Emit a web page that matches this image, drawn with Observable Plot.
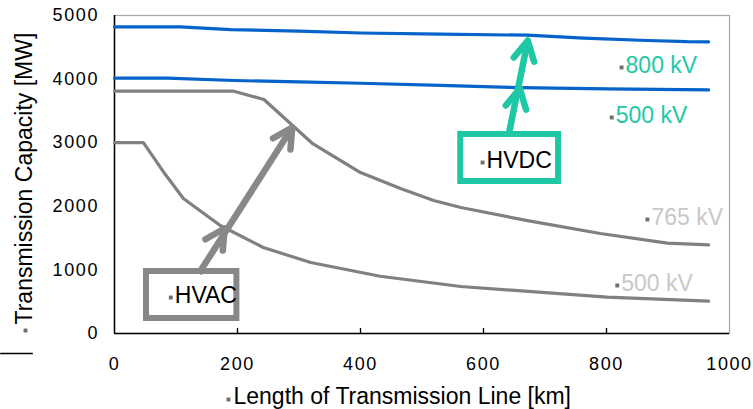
<!DOCTYPE html>
<html><head><meta charset="utf-8">
<script src="https://cdn.jsdelivr.net/npm/d3@7"></script>
<script src="https://cdn.jsdelivr.net/npm/@observablehq/plot@0.6"></script>
<style>
body{margin:0;background:#fff}
g[aria-label="y-axis tick label"] text, g[aria-label="x-axis tick label"] text{letter-spacing:1.6px}
</style>
</head><body><div id="chart"></div>
<script>
// ---- data ----
const hvdc800Km = [0, 107, 189, 300, 400, 530, 671, 763, 866, 931, 966];
const hvdc800MW = [4820, 4820, 4778, 4753, 4725, 4708, 4690, 4643, 4607, 4588, 4586];
const hvdc500Km = [0, 86, 194, 300, 400, 530, 660, 800, 966];
const hvdc500MW = [4015, 4015, 3978, 3955, 3935, 3900, 3866, 3845, 3830];
const hvac765Km = [0, 194, 243, 321, 400, 465, 519, 563, 676, 790, 899, 966];
const hvac765MW = [3810, 3810, 3679, 2995, 2530, 2280, 2091, 1981, 1766, 1572, 1420, 1394];
const hvac500Km = [0, 47, 80, 112, 172, 242, 319, 432, 563, 801, 966];
const hvac500MW = [3000, 3000, 2536, 2123, 1698, 1352, 1116, 900, 739, 571, 508];

const xTicks = [0, 200, 400, 600, 800, 1000];
const yTicks = [0, 1000, 2000, 3000, 4000, 5000];
const innerTicks = [200, 400, 600, 800];
const xTitle = "Length of Transmission Line [km]";
const yTitle = "Transmission Capacity [MW]";

const seriesLabels = ["800 kV", "500 kV", "765 kV", "500 kV"];
const seriesLabelKm = [831, 815, 873, 824];
const seriesLabelMW = [4214, 3428, 1824, 786];
const seriesLabelGroup = ["HVDC", "HVDC", "HVAC", "HVAC"];

const boxNames = ["HVDC", "HVAC"];
const boxKm1 = [563, 52], boxKm2 = [722, 199];
const boxMW1 = [2390, 236], boxMW2 = [3129, 975];
const boxTextKm = [605, 98], boxTextMW = [2720, 597];

const arrowStartKm = [642, 137], arrowStartMW = [3176, 943];
const arrowMidKm = [659, 179], arrowMidMW = [3852, 1651];
const arrowTipKm = [672, 289], arrowTipMW = [4607, 3239];

const cornerRuleKm = [-185, -132], cornerRuleMW = [-314];

// ---- styles ----
const W = 753, H = 409;
const mL = 114, mR = 24, mT = 15, mB = 76;
const blue = "#0563c9", gray = "#808080", teal = "#1ec8a5", lightGray = "#c8c8c8", sq = "#6e6e6e";
const groupColor = {HVDC: teal, HVAC: "#888888"};
const labelColor = {HVDC: teal, HVAC: lightGray};

const series = [
  {name: "HVDC 800 kV", km: hvdc800Km, mw: hvdc800MW, color: blue},
  {name: "HVDC 500 kV", km: hvdc500Km, mw: hvdc500MW, color: blue},
  {name: "HVAC 765 kV", km: hvac765Km, mw: hvac765MW, color: gray},
  {name: "HVAC 500 kV", km: hvac500Km, mw: hvac500MW, color: gray}
];
const rows = series.flatMap(s => s.km.map((k, i) => ({series: s.name, km: k, mw: s.mw[i], color: s.color})));

const labels = seriesLabels.map((t, i) => ({t, km: seriesLabelKm[i], mw: seriesLabelMW[i], g: seriesLabelGroup[i]}));
const boxes = boxNames.map((n, i) => ({n, x1: boxKm1[i], x2: boxKm2[i], y1: boxMW1[i], y2: boxMW2[i], tx: boxTextKm[i], ty: boxTextMW[i]}));

// pixel scales mirroring Plot's, used only to orient arrowheads
const xs = d3.scaleLinear([0, 1000], [mL, W - mR]);
const ys = d3.scaleLinear([0, 5000], [H - mB, mT]);

function chevron(theta) {
  const a = 28 * Math.PI / 180;
  const fx = Math.sin(theta), fy = -Math.cos(theta);
  const bx = -fx, by = -fy;
  const r1 = [bx * Math.cos(a) - by * Math.sin(a), bx * Math.sin(a) + by * Math.cos(a)];
  const r2 = [bx * Math.cos(-a) - by * Math.sin(-a), bx * Math.sin(-a) + by * Math.cos(-a)];
  return {
    draw(ctx, size) {
      const L = Math.sqrt(size / Math.PI);
      ctx.moveTo(r1[0] * L, r1[1] * L);
      ctx.lineTo(0, 0);
      ctx.lineTo(r2[0] * L, r2[1] * L);
    }
  };
}

const arrowMarks = boxNames.flatMap((n, i) => {
  const dx = xs(arrowTipKm[i]) - xs(arrowStartKm[i]);
  const dy = ys(arrowTipMW[i]) - ys(arrowStartMW[i]);
  const theta = Math.atan2(dx, -dy);
  const heads = [{x: arrowMidKm[i], y: arrowMidMW[i]}, {x: arrowTipKm[i], y: arrowTipMW[i]}];
  return [
    Plot.link([0], {x1: () => arrowStartKm[i], y1: () => arrowStartMW[i], x2: () => arrowTipKm[i], y2: () => arrowTipMW[i], stroke: groupColor[n], strokeWidth: 6.5}),
    Plot.dot(heads, {x: "x", y: "y", r: 22, symbol: chevron(theta), fill: "none", stroke: groupColor[n], strokeWidth: 6.5, strokeLinecap: "round", strokeLinejoin: "round"})
  ];
});

const chart = Plot.plot({
  width: W, height: H,
  marginLeft: mL, marginRight: mR, marginTop: mT, marginBottom: mB,
  style: {fontFamily: "'Liberation Sans', Arial, sans-serif", fontSize: "18px", color: "#000", background: "#fff", overflow: "visible"},
  x: {domain: [0, 1000]},
  y: {domain: [0, 5000]},
  marks: [
    Plot.frame({stroke: "#a6a6a6", strokeWidth: 1.2}),
    Plot.ruleX([0], {stroke: "#000", strokeWidth: 1.5}),
    Plot.ruleY([0], {stroke: "#000", strokeWidth: 1.5}),
    Plot.ruleX(innerTicks, {y1: 0, y2: 80, stroke: "#000", strokeWidth: 1.3}),
    Plot.axisY({ticks: yTicks, tickSize: 0, tickPadding: 15.5, tickFormat: d => String(d), label: null}),
    Plot.axisX({ticks: xTicks, tickSize: 0, tickPadding: 24, tickFormat: d => String(d), label: null}),
    Plot.line(rows, {x: "km", y: "mw", z: "series", stroke: "color", strokeWidth: 3.2, strokeLinejoin: "round"}),
    // boxes
    Plot.rect(boxes, {x1: "x1", x2: "x2", y1: "y1", y2: "y2", fill: "#fff", stroke: d => groupColor[d.n], strokeWidth: 6, inset: 0}),
    ...arrowMarks,
    Plot.text(boxes, {x: "tx", y: "ty", text: "n", textAnchor: "start", lineAnchor: "middle", fontSize: 23, fill: "#000"}),
    Plot.dot(boxes, {x: "tx", y: "ty", dx: -4, dy: 2, symbol: "square", r: 2.2, fill: sq}),
    // series labels
    Plot.text(labels, {x: "km", y: "mw", text: "t", textAnchor: "start", lineAnchor: "middle", fontSize: 23, fill: d => labelColor[d.g]}),
    Plot.dot(labels, {x: "km", y: "mw", dx: -4, dy: 2, symbol: "square", r: 2.2, fill: sq}),
    // axis titles
    Plot.text([xTitle], {frameAnchor: "bottom-left", dx: 119, dy: 63, text: d => d, textAnchor: "start", lineAnchor: "middle", fontSize: 23, fill: "#000"}),
    Plot.dot([0], {frameAnchor: "bottom-left", dx: 114, dy: 66, symbol: "square", r: 2.2, fill: sq}),
    Plot.text([yTitle], {frameAnchor: "bottom-left", dx: -90, dy: -9, rotate: -90, text: d => d, textAnchor: "start", lineAnchor: "middle", fontSize: 23, fill: "#000"}),
    Plot.dot([0], {frameAnchor: "bottom-left", dx: -89, dy: -3, symbol: "square", r: 2.2, fill: sq}),
    Plot.ruleY(cornerRuleMW, {x1: cornerRuleKm[0], x2: cornerRuleKm[1], stroke: "#000", strokeWidth: 1.6})
  ]
});
document.getElementById("chart").appendChild(chart);
</script>
</body></html>
